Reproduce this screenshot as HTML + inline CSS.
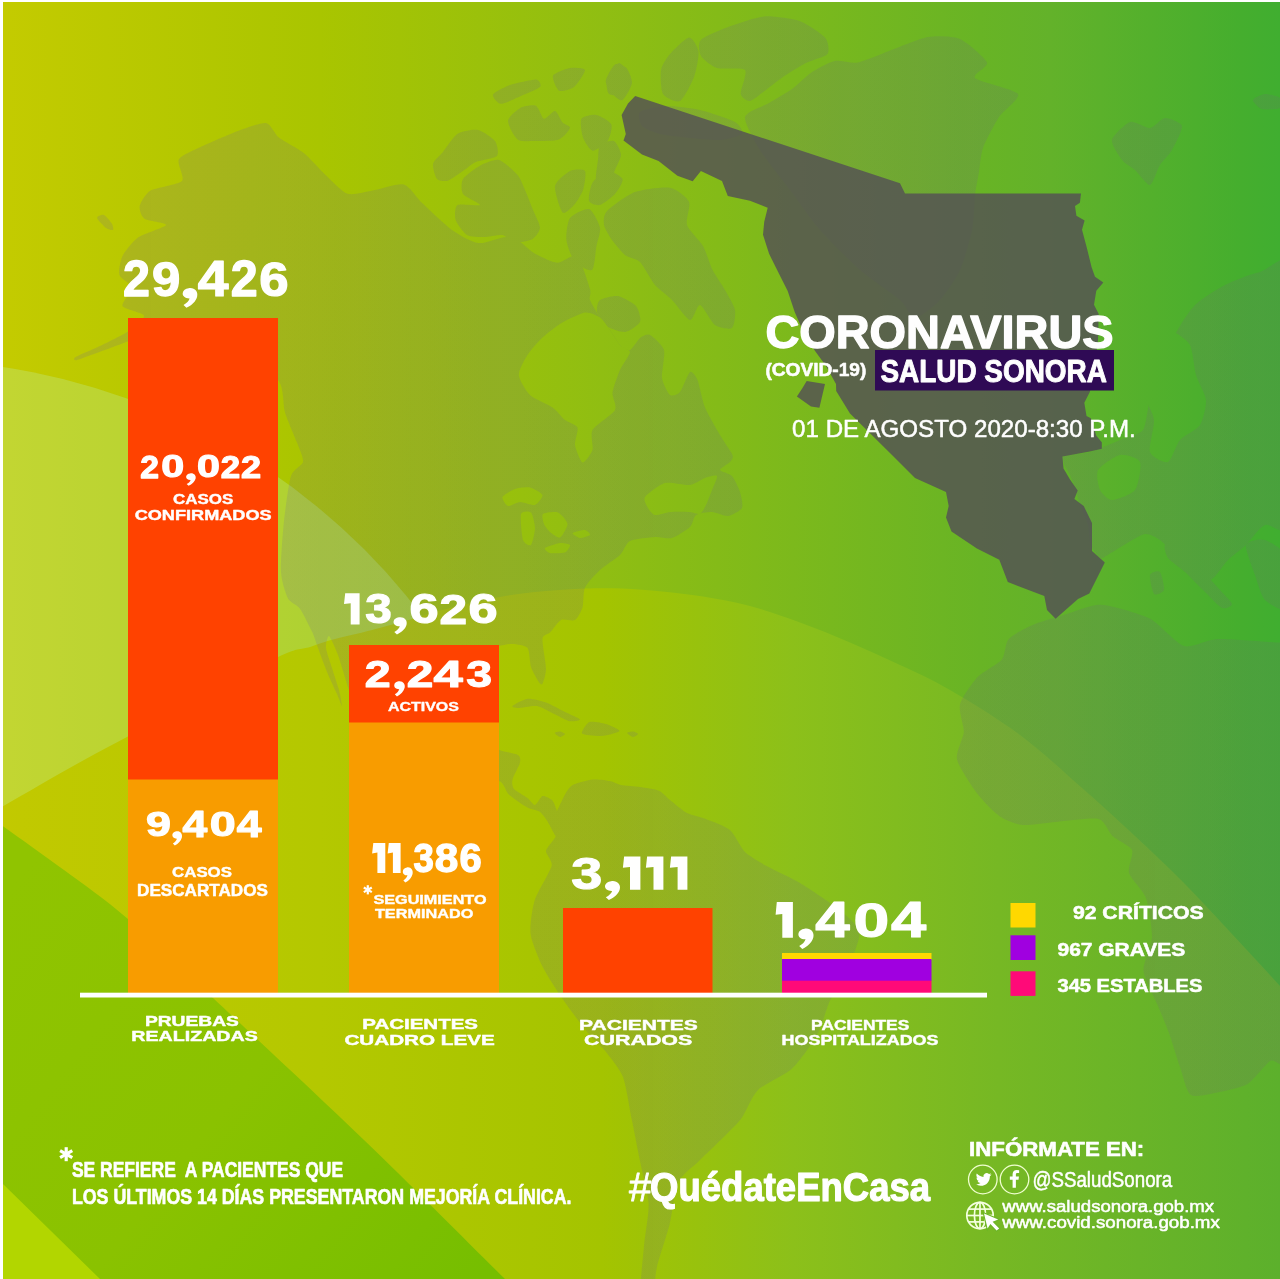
<!DOCTYPE html>
<html lang="es"><head><meta charset="utf-8"><title>Coronavirus (COVID-19) Salud Sonora</title>
<style>
html,body{margin:0;padding:0;background:#fff;}
body{width:1280px;height:1279px;overflow:hidden;font-family:"Liberation Sans",sans-serif;}
svg{display:block;}
text{font-family:"Liberation Sans",sans-serif;fill:#fff;}
.b{font-weight:bold;}
</style></head><body>
<svg width="1280" height="1279" viewBox="0 0 1280 1279">
<defs>
<linearGradient id="gBase" x1="0" y1="0" x2="1280" y2="0" gradientUnits="userSpaceOnUse">
<stop offset="0" stop-color="#c4cb00"/><stop offset="0.25" stop-color="#a9c500"/><stop offset="0.47" stop-color="#90be12"/><stop offset="0.62" stop-color="#7cb91c"/><stop offset="0.766" stop-color="#68b425"/><stop offset="0.82" stop-color="#63b22a"/><stop offset="0.9" stop-color="#53b02c"/><stop offset="0.97" stop-color="#45ae2e"/><stop offset="1" stop-color="#40ae30"/>
</linearGradient>
<linearGradient id="gS2" x1="0" y1="0" x2="1280" y2="0" gradientUnits="userSpaceOnUse">
<stop offset="0" stop-color="#c2c900"/><stop offset="0.25" stop-color="#b4c800"/><stop offset="0.47" stop-color="#a4c400"/><stop offset="0.62" stop-color="#8cc01a"/><stop offset="0.78" stop-color="#76b824"/><stop offset="1" stop-color="#5cb02c"/>
</linearGradient>
<linearGradient id="gBand" x1="0" y1="900" x2="480" y2="1279" gradientUnits="userSpaceOnUse">
<stop offset="0" stop-color="#90c400"/><stop offset="0.5" stop-color="#8ac200"/><stop offset="1" stop-color="#76be00"/>
</linearGradient>
<clipPath id="clipAll"><rect x="3" y="2" width="1277" height="1277"/></clipPath>
</defs>
<rect x="0" y="0" width="1280" height="1279" fill="#ffffff"/>
<g clip-path="url(#clipAll)">
<rect x="3" y="2" width="1277" height="1277" fill="url(#gBase)"/>
<circle cx="-93.4" cy="1007" r="647.2" fill="#bef7c8" fill-opacity="0.25"/>
<path d="M-60.0,842.0 C-50.0,836.3 -24.0,821.7 0.0,808.0 C24.0,794.3 54.0,776.5 84.0,760.0 C114.0,743.5 147.7,726.2 180.0,709.0 C212.3,691.8 256.3,667.3 278.0,657.0 C299.7,646.7 301.2,649.8 310.0,647.0 C318.8,644.2 320.7,642.8 331.0,640.0 C341.3,637.2 358.5,633.5 372.0,630.0 C385.5,626.5 399.0,622.7 412.0,619.0 C425.0,615.3 435.3,611.7 450.0,608.0 C464.7,604.3 484.8,599.8 500.0,597.0 C515.2,594.2 526.8,592.9 541.0,591.5 C555.2,590.1 571.5,589.0 585.0,588.5 C598.5,588.0 609.2,588.0 622.0,588.5 C634.8,589.0 648.5,590.1 662.0,591.5 C675.5,592.9 688.3,594.2 703.0,596.6 C717.7,599.0 733.8,601.7 750.0,606.0 C766.2,610.3 783.3,616.4 800.0,622.5 C816.7,628.6 833.3,635.4 850.0,642.5 C866.7,649.6 883.3,657.1 900.0,665.0 C916.7,672.9 930.0,678.3 950.0,690.0 C970.0,701.7 998.2,718.8 1020.0,735.0 C1041.8,751.2 1061.8,770.2 1081.0,787.0 C1100.2,803.8 1117.8,820.0 1135.0,836.0 C1152.2,852.0 1167.8,866.7 1184.0,883.0 C1200.2,899.3 1216.0,916.8 1232.0,934.0 C1248.0,951.2 1263.7,968.0 1280.0,986.0 C1296.3,1004.0 1321.7,1032.7 1330.0,1042.0 L1330,1400 L-60,1400 Z" fill="url(#gS2)"/>
<path d="M-40.0,796.0 C-33.3,800.7 -17.3,811.7 0.0,824.0 C17.3,836.3 42.7,854.2 64.0,870.0 C85.3,885.8 103.2,897.7 128.0,919.0 C152.8,940.3 173.7,961.2 213.0,998.0 C252.3,1034.8 315.3,1093.2 364.0,1140.0 C412.7,1186.8 472.3,1246.7 505.0,1279.0 C537.7,1311.3 550.8,1324.8 560.0,1334.0 L-40,1334 Z" fill="url(#gBand)"/>
<path d="M-10,1171 L3,1184 L100,1279 L140,1320 L-10,1320 Z" fill="#b2d600"/>
<mask id="mLand" maskUnits="userSpaceOnUse" x="0" y="0" width="1280" height="1279"><rect x="0" y="0" width="1280" height="1279" fill="#000"/><g fill="#fff"><path d="M266.0,123.0 C261.2,122.2 245.6,128.2 238.0,131.0 C230.4,133.8 207.5,143.7 200.6,147.0 C193.7,150.3 181.0,155.4 178.8,159.4 C176.6,163.4 185.2,177.4 181.9,181.0 C178.6,184.6 155.5,187.7 150.6,190.6 C145.7,193.5 140.4,202.7 139.7,206.0 C139.0,209.3 141.3,216.6 144.4,218.8 C147.5,221.0 166.7,222.8 166.0,225.0 C165.3,227.2 143.1,233.9 138.0,237.5 C132.9,241.1 124.7,251.6 122.5,256.0 C120.3,260.4 118.3,271.3 119.4,275.0 C120.5,278.7 131.6,283.9 132.0,287.5 C132.4,291.1 121.1,302.7 122.5,306.0 C123.9,309.3 143.3,312.7 144.0,315.6 C144.7,318.5 133.9,327.5 128.8,331.0 C123.7,334.5 106.2,343.0 100.0,346.0 C93.8,349.0 78.3,355.4 75.6,357.0 C72.9,358.6 73.6,360.8 77.0,360.0 C80.4,359.2 98.2,352.4 105.0,350.0 C111.8,347.6 128.0,341.1 135.0,339.0 C142.0,336.9 157.4,332.1 165.0,332.0 C172.6,331.9 191.2,335.9 200.0,338.0 C208.8,340.1 230.8,345.0 240.0,350.0 C249.2,355.0 273.6,373.7 278.8,381.0 C284.1,388.3 282.8,405.2 285.0,412.5 C287.2,419.8 295.4,438.0 297.5,443.8 C299.6,449.6 303.8,458.2 303.0,462.0 C302.2,465.8 293.2,469.1 291.0,476.0 C288.8,482.9 285.2,509.8 284.0,521.0 C282.8,532.2 280.5,563.0 281.0,572.0 C281.5,581.0 285.8,594.2 288.0,598.5 C290.2,602.8 297.1,604.7 300.0,608.7 C302.9,612.7 310.6,628.4 312.7,633.0 C314.8,637.6 316.3,643.5 318.0,648.0 C319.7,652.5 324.8,666.6 327.0,672.0 C329.2,677.4 335.2,690.0 337.0,694.0 C338.8,698.0 341.8,706.5 342.0,706.0 C342.2,705.5 340.2,694.4 339.0,690.0 C337.8,685.6 333.5,672.9 332.0,668.0 C330.5,663.1 326.4,651.7 326.0,648.0 C325.6,644.3 327.6,635.2 329.0,636.0 C330.4,636.8 335.7,648.7 338.0,655.0 C340.3,661.3 346.4,682.4 349.0,690.0 C351.6,697.6 356.4,713.0 360.0,720.0 C363.6,727.0 373.0,743.6 380.0,750.0 C387.0,756.4 410.7,770.3 420.0,775.0 C429.3,779.7 450.9,789.3 460.0,790.0 C469.1,790.7 492.7,780.5 498.4,781.0 C504.1,781.5 505.4,791.4 508.8,794.5 C512.2,797.6 523.9,805.6 527.5,807.6 C531.1,809.6 537.6,810.3 540.0,812.0 C542.4,813.7 546.1,819.2 548.0,822.0 C549.9,824.8 554.6,836.0 556.0,836.0 C557.4,836.0 560.0,825.3 560.0,822.0 C560.0,818.7 556.6,810.2 555.7,807.6 C554.8,805.0 553.5,801.4 552.0,800.0 C550.5,798.6 544.5,795.4 542.5,796.0 C540.5,796.6 536.8,804.8 535.0,805.0 C533.2,805.2 530.0,799.9 527.5,798.0 C525.0,796.1 515.8,791.2 514.0,789.0 C512.2,786.8 511.8,782.6 512.5,779.5 C513.2,776.4 519.4,765.5 520.0,762.6 C520.6,759.7 520.4,756.5 518.0,755.0 C515.6,753.5 503.8,751.8 499.4,750.0 C495.0,748.2 484.6,744.1 480.0,740.0 C475.4,735.9 463.5,720.8 460.0,715.0 C456.5,709.2 450.6,695.8 450.0,690.0 C449.4,684.2 452.1,669.7 455.0,665.0 C457.9,660.3 470.0,652.2 475.0,650.0 C480.0,647.8 493.6,646.7 498.0,646.0 C502.4,645.3 509.1,643.8 512.5,644.0 C515.9,644.2 525.3,645.3 527.5,648.0 C529.7,650.7 529.7,663.0 531.0,667.0 C532.3,671.0 537.5,680.0 538.8,682.0 C540.1,684.0 541.7,685.3 542.5,683.8 C543.3,682.3 546.0,674.0 546.0,668.8 C546.0,663.5 542.0,643.0 542.5,638.8 C543.0,634.6 547.8,634.8 550.0,632.6 C552.2,630.4 558.1,621.5 561.0,620.0 C563.9,618.5 572.5,621.5 575.0,620.0 C577.5,618.5 581.3,611.3 582.5,607.5 C583.7,603.7 583.0,591.9 585.0,587.5 C587.0,583.1 595.9,573.8 600.0,570.0 C604.1,566.2 616.5,558.4 620.0,555.0 C623.5,551.6 625.9,543.1 630.0,541.0 C634.1,538.9 650.1,537.4 655.0,537.0 C659.9,536.6 667.9,539.2 672.0,538.0 C676.1,536.8 687.2,529.7 690.0,527.0 C692.8,524.3 693.4,516.8 696.0,515.0 C698.6,513.2 708.3,511.9 712.0,512.0 C715.7,512.1 724.5,516.5 728.0,516.0 C731.5,515.5 740.6,510.8 742.0,508.0 C743.4,505.2 741.2,495.7 740.0,492.0 C738.8,488.3 734.3,478.6 732.0,476.0 C729.7,473.4 720.2,471.6 720.0,470.0 C719.8,468.4 728.5,463.8 730.0,462.0 C731.5,460.2 733.7,458.1 732.5,455.0 C731.3,451.9 723.2,440.5 720.0,435.0 C716.8,429.5 707.6,413.9 705.0,407.5 C702.4,401.1 699.2,384.1 697.5,380.0 C695.8,375.9 692.0,370.6 690.0,372.0 C688.0,373.4 682.3,389.3 680.0,392.0 C677.7,394.7 672.1,396.6 670.0,395.0 C667.9,393.4 662.7,383.2 662.0,378.0 C661.3,372.8 665.4,355.0 664.0,350.0 C662.6,345.0 652.8,336.4 650.0,335.0 C647.2,333.6 642.3,336.2 640.0,338.0 C637.7,339.8 632.3,349.2 630.0,350.0 C627.7,350.8 622.3,347.3 620.0,345.0 C617.7,342.7 612.3,333.2 610.0,330.0 C607.7,326.8 602.3,321.0 600.0,317.5 C597.7,314.0 591.2,303.3 590.0,300.0 C588.8,296.7 591.5,294.1 590.0,289.0 C588.5,283.9 580.9,259.1 577.0,256.0 C573.1,252.9 562.0,263.1 557.0,262.7 C552.0,262.3 539.4,256.1 534.0,253.0 C528.6,249.9 517.5,237.7 511.0,236.5 C504.5,235.3 485.4,243.8 478.5,243.0 C471.6,242.2 458.5,234.6 452.0,230.0 C445.5,225.4 428.3,208.9 422.7,203.6 C417.1,198.3 409.7,185.9 403.8,184.4 C397.9,182.9 379.1,189.5 372.5,190.6 C365.9,191.7 353.0,195.6 347.5,193.8 C342.0,192.0 330.7,179.8 325.6,175.0 C320.5,170.2 309.3,157.4 303.8,153.0 C298.3,148.6 283.2,141.0 278.8,137.5 C274.4,134.0 270.8,123.8 266.0,123.0Z"/><path d="M97.0,218.0 C96.8,216.5 102.2,214.3 104.0,215.0 C105.8,215.7 111.0,222.2 112.0,224.0 C113.0,225.8 113.7,229.5 113.0,230.0 C112.3,230.5 107.9,229.4 106.0,228.0 C104.1,226.6 97.2,219.5 97.0,218.0Z"/><path d="M512.5,706.0 C513.6,704.9 523.6,699.2 527.5,698.8 C531.4,698.4 541.6,701.0 546.0,702.5 C550.4,704.0 561.0,710.0 565.0,712.0 C569.0,714.0 579.6,718.4 580.0,719.4 C580.4,720.4 571.9,721.7 568.8,721.0 C565.7,720.3 557.5,715.5 553.8,713.8 C550.1,712.0 541.2,706.7 537.0,706.0 C532.8,705.3 520.9,708.0 518.0,708.0 C515.1,708.0 511.4,707.1 512.5,706.0Z"/><path d="M589.4,722.0 C592.2,720.9 602.5,723.0 606.0,724.0 C609.5,725.0 619.0,729.5 619.5,730.7 C620.0,731.9 612.4,733.8 610.0,734.4 C607.6,735.0 602.1,736.1 598.8,736.0 C595.5,735.9 583.1,735.1 582.0,733.5 C580.9,731.9 586.6,723.1 589.4,722.0Z"/><path d="M554.7,733.0 C554.7,732.4 558.8,731.5 560.0,731.6 C561.2,731.7 565.0,733.4 565.0,734.0 C565.0,734.6 561.2,737.1 560.0,737.0 C558.8,736.9 554.7,733.6 554.7,733.0Z"/><path d="M627.0,733.0 C627.0,732.4 631.7,731.5 633.0,731.6 C634.3,731.7 638.0,733.4 638.0,734.0 C638.0,734.6 634.3,737.1 633.0,737.0 C631.7,736.9 627.0,733.6 627.0,733.0Z"/><path d="M543.0,807.0 C543.5,806.6 549.4,820.5 552.0,819.0 C554.6,817.5 562.6,798.5 565.0,794.5 C567.4,790.5 569.3,786.8 572.6,785.0 C575.9,783.2 588.6,780.0 593.0,779.5 C597.4,779.0 606.7,780.4 610.0,781.0 C613.3,781.6 617.5,784.3 621.0,785.0 C624.5,785.7 635.6,786.3 640.0,787.0 C644.4,787.7 655.5,789.2 659.0,790.7 C662.5,792.2 666.7,797.4 670.0,800.0 C673.3,802.6 682.8,810.8 687.0,813.0 C691.2,815.2 700.8,817.0 705.8,819.0 C710.8,821.0 725.4,826.1 730.0,830.0 C734.6,833.9 740.7,847.8 745.0,852.0 C749.3,856.2 760.2,862.4 766.6,866.0 C773.0,869.6 791.7,878.0 800.0,883.0 C808.3,888.0 831.1,903.2 838.0,908.6 C844.9,914.0 856.9,925.0 859.0,929.6 C861.1,934.2 856.9,944.6 856.0,948.0 C855.1,951.4 852.9,954.7 851.0,959.0 C849.1,963.3 842.5,980.1 840.0,985.0 C837.5,989.9 832.5,995.2 829.8,1001.0 C827.1,1006.8 821.4,1027.1 817.0,1035.0 C812.6,1042.9 798.9,1062.3 792.0,1068.7 C785.1,1075.1 764.0,1084.1 758.0,1090.0 C752.0,1095.9 745.9,1112.6 741.0,1119.0 C736.1,1125.4 720.9,1139.7 716.0,1144.6 C711.1,1149.5 703.4,1156.6 699.0,1161.0 C694.6,1165.4 681.4,1175.1 678.0,1182.5 C674.6,1189.9 672.1,1214.8 669.6,1224.6 C667.1,1234.4 659.1,1258.0 657.0,1266.8 C654.9,1275.6 654.0,1296.1 652.0,1300.0 C650.0,1303.9 640.9,1306.3 640.0,1300.0 C639.1,1293.7 643.0,1256.9 644.0,1245.7 C645.0,1234.5 649.1,1213.5 648.6,1203.6 C648.1,1193.7 642.0,1170.9 640.0,1161.0 C638.0,1151.1 633.7,1128.8 631.7,1119.0 C629.7,1109.2 626.0,1084.8 623.0,1077.0 C620.0,1069.2 609.9,1056.9 606.0,1052.0 C602.1,1047.1 594.5,1041.0 589.6,1035.0 C584.7,1029.0 569.4,1008.9 564.0,1001.0 C558.6,993.1 546.9,975.4 543.0,967.6 C539.1,959.8 531.6,941.9 530.6,934.0 C529.6,926.1 532.3,907.9 534.8,900.0 C537.2,892.1 550.3,871.7 551.6,866.0 C552.9,860.3 545.5,854.3 546.0,850.8 C546.5,847.3 555.5,839.2 555.7,835.8 C555.9,832.4 549.5,825.4 548.0,822.0 C546.5,818.6 542.5,807.4 543.0,807.0Z"/><path d="M1300.0,642.0 C1297.7,595.6 1289.6,643.0 1280.0,642.6 C1270.4,642.2 1229.2,638.6 1218.0,639.0 C1206.8,639.4 1192.0,648.4 1184.0,646.0 C1176.0,643.6 1159.3,623.3 1149.6,618.5 C1139.9,613.7 1111.0,605.1 1101.0,604.7 C1091.0,604.3 1071.6,612.6 1063.6,615.0 C1055.6,617.4 1039.0,622.2 1032.6,625.0 C1026.2,627.8 1012.2,634.9 1008.6,639.0 C1005.0,643.1 1005.3,655.4 1001.7,659.8 C998.1,664.2 982.5,671.8 977.6,677.0 C972.7,682.2 961.6,698.1 960.0,704.5 C958.4,710.9 964.1,725.6 963.8,732.0 C963.4,738.4 955.4,752.3 957.0,759.5 C958.6,766.7 972.6,787.3 977.6,794.0 C982.6,800.7 994.8,813.0 1000.0,816.6 C1005.2,820.2 1016.0,824.4 1022.5,825.0 C1029.0,825.6 1047.1,822.7 1056.0,822.0 C1064.9,821.3 1091.9,817.4 1098.5,819.0 C1105.1,820.6 1108.6,832.4 1112.5,836.0 C1116.4,839.6 1130.1,845.7 1132.0,850.0 C1133.9,854.3 1127.4,867.4 1129.0,873.0 C1130.6,878.6 1143.3,890.5 1146.0,898.0 C1148.7,905.5 1152.3,929.1 1152.0,937.6 C1151.7,946.1 1142.8,963.1 1143.5,971.0 C1144.2,978.9 1154.6,997.8 1157.6,1005.0 C1160.6,1012.2 1166.4,1025.8 1169.0,1033.0 C1171.6,1040.2 1177.4,1059.8 1180.0,1067.0 C1182.6,1074.2 1186.4,1092.1 1191.0,1095.0 C1195.6,1097.9 1212.9,1093.3 1219.5,1092.0 C1226.1,1090.7 1241.7,1087.6 1247.6,1084.0 C1253.5,1080.4 1263.9,1066.1 1270.0,1061.0 C1276.1,1055.9 1296.5,1088.9 1300.0,1040.0 C1303.5,991.1 1302.3,688.4 1300.0,642.0Z"/><path d="M1300.0,270.0 C1295.3,241.3 1268.8,270.2 1260.0,272.0 C1251.2,273.8 1232.6,281.1 1225.0,285.0 C1217.4,288.9 1200.8,299.2 1195.0,305.0 C1189.2,310.8 1178.5,327.4 1175.0,335.0 C1171.5,342.6 1167.9,362.4 1165.0,370.0 C1162.1,377.6 1152.6,393.0 1150.0,400.0 C1147.4,407.0 1146.5,425.3 1143.0,430.0 C1139.5,434.7 1126.2,437.4 1120.0,440.0 C1113.8,442.6 1096.7,450.0 1090.0,452.0 C1083.3,454.0 1064.8,454.3 1062.5,457.0 C1060.2,459.7 1068.5,471.3 1070.0,475.0 C1071.5,478.7 1074.5,485.7 1075.6,488.8 C1076.6,491.9 1077.6,497.8 1079.0,502.0 C1080.4,506.2 1086.6,520.0 1088.0,525.0 C1089.4,530.0 1089.2,541.1 1090.6,545.0 C1092.0,548.9 1098.2,556.7 1100.0,558.0 C1101.8,559.3 1103.2,557.5 1106.0,556.0 C1108.8,554.5 1119.5,547.6 1124.0,545.0 C1128.5,542.4 1140.8,534.6 1145.0,534.0 C1149.2,533.4 1156.5,537.5 1160.0,540.0 C1163.5,542.5 1171.5,552.1 1175.0,555.0 C1178.5,557.9 1185.9,562.1 1190.0,565.0 C1194.1,567.9 1205.6,580.6 1210.0,580.0 C1214.4,579.4 1223.8,564.1 1228.0,560.0 C1232.2,555.9 1241.7,549.1 1246.0,545.0 C1250.3,540.9 1258.7,528.1 1265.0,525.0 C1271.3,521.9 1295.9,547.8 1300.0,518.0 C1304.1,488.2 1304.7,298.7 1300.0,270.0Z"/><path d="M1165.0,545.0 C1166.4,543.8 1175.9,545.3 1180.0,548.0 C1184.1,550.7 1195.3,563.1 1200.0,568.0 C1204.7,572.9 1216.3,585.8 1220.0,590.0 C1223.7,594.2 1231.8,601.9 1232.0,604.0 C1232.2,606.1 1225.2,609.4 1222.0,608.0 C1218.8,606.6 1209.3,596.2 1205.0,592.0 C1200.7,587.8 1189.3,576.0 1185.0,572.0 C1180.7,568.0 1170.3,561.1 1168.0,558.0 C1165.7,554.9 1163.6,546.2 1165.0,545.0Z"/><path d="M1246.0,545.0 C1247.2,540.9 1259.9,538.2 1265.0,540.0 C1270.1,541.8 1287.1,551.8 1290.0,560.0 C1292.9,568.2 1292.9,605.3 1290.0,610.0 C1287.1,614.7 1269.1,604.1 1265.0,600.0 C1260.9,595.9 1257.2,581.4 1255.0,575.0 C1252.8,568.6 1244.8,549.1 1246.0,545.0Z"/><path d="M1150.0,575.0 C1150.7,572.4 1158.4,570.2 1160.0,572.0 C1161.6,573.8 1164.7,587.4 1164.0,590.0 C1163.3,592.6 1155.6,595.8 1154.0,594.0 C1152.4,592.2 1149.3,577.6 1150.0,575.0Z"/><path d="M1112.0,140.0 C1112.9,135.6 1125.6,123.4 1130.0,122.0 C1134.4,120.6 1145.9,128.5 1150.0,128.0 C1154.1,127.5 1161.3,118.2 1165.0,118.0 C1168.7,117.8 1181.2,122.3 1182.0,126.0 C1182.8,129.7 1174.6,145.4 1172.0,150.0 C1169.4,154.6 1162.6,160.9 1160.0,165.0 C1157.4,169.1 1152.9,184.4 1150.0,185.0 C1147.1,185.6 1138.3,172.9 1135.0,170.0 C1131.7,167.1 1124.7,163.5 1122.0,160.0 C1119.3,156.5 1111.1,144.4 1112.0,140.0Z"/><path d="M1253.0,100.0 C1253.3,98.2 1261.8,94.2 1265.0,94.0 C1268.2,93.8 1278.2,96.4 1280.0,98.0 C1281.8,99.6 1282.1,106.7 1280.0,108.0 C1277.9,109.3 1265.2,109.9 1262.0,109.0 C1258.8,108.1 1252.7,101.8 1253.0,100.0Z"/><path d="M745.0,117.0 C746.0,111.5 763.5,106.3 769.0,103.0 C774.5,99.7 787.1,92.5 792.0,89.0 C796.9,85.5 806.0,76.0 811.0,72.7 C816.0,69.4 829.1,62.2 834.6,61.0 C840.1,59.8 851.7,63.7 858.0,62.5 C864.3,61.3 880.8,54.0 889.0,51.0 C897.2,48.0 919.7,38.4 928.0,37.0 C936.3,35.6 953.1,36.0 960.0,39.0 C966.9,42.0 985.2,58.0 987.0,62.5 C988.8,67.0 971.4,74.3 975.0,78.0 C978.6,81.7 1015.2,89.5 1018.0,94.0 C1020.8,98.5 1003.1,110.7 999.0,117.0 C994.9,123.3 985.3,141.6 983.0,148.0 C980.7,154.4 979.9,166.5 979.0,172.0 C978.1,177.5 975.8,188.2 975.0,195.0 C974.2,201.8 973.8,221.2 972.0,230.0 C970.2,238.8 963.7,261.8 960.0,270.0 C956.3,278.2 945.2,294.4 940.0,300.0 C934.8,305.6 919.7,318.0 915.0,318.0 C910.3,318.0 906.4,305.6 900.0,300.0 C893.6,294.4 869.3,278.2 860.0,270.0 C850.7,261.8 828.2,239.3 820.0,230.0 C811.8,220.7 797.0,199.3 790.0,190.0 C783.0,180.7 765.2,158.5 760.0,150.0 C754.8,141.5 744.0,122.5 745.0,117.0Z"/><path d="M700.9,39.9 C704.4,36.4 724.0,28.5 731.4,25.8 C738.8,23.1 756.3,17.0 764.2,16.4 C772.1,15.8 792.3,18.5 799.4,21.0 C806.5,23.5 821.7,33.6 825.0,37.5 C828.3,41.4 829.7,51.0 827.5,54.0 C825.3,57.0 811.2,60.3 806.0,63.0 C800.8,65.7 787.9,73.7 783.0,77.0 C778.1,80.3 767.9,88.7 764.0,91.5 C760.1,94.3 752.7,100.7 750.0,101.0 C747.3,101.3 741.3,97.6 740.7,94.0 C740.1,90.4 747.8,73.0 745.0,70.0 C742.2,67.0 722.1,69.6 717.0,68.0 C711.9,66.4 702.9,59.3 701.0,56.0 C699.1,52.7 697.4,43.4 700.9,39.9Z"/><path d="M661.0,70.0 C661.8,65.3 666.7,57.8 670.0,54.0 C673.3,50.2 685.7,37.8 689.0,37.5 C692.3,37.2 697.9,47.0 698.5,51.6 C699.1,56.2 696.2,71.2 694.0,77.0 C691.8,82.8 683.6,99.0 680.0,101.0 C676.4,103.0 665.2,97.6 663.0,94.0 C660.8,90.4 660.2,74.7 661.0,70.0Z"/><path d="M607.0,80.0 C608.2,76.4 616.3,63.4 619.0,63.0 C621.7,62.6 630.0,73.4 630.5,77.0 C631.0,80.6 626.0,92.0 623.5,94.0 C621.0,96.0 610.9,95.6 609.0,94.0 C607.1,92.4 605.8,83.6 607.0,80.0Z"/><path d="M640.0,112.0 C642.7,109.7 658.0,106.2 665.0,106.0 C672.0,105.8 691.8,108.1 700.0,110.0 C708.2,111.9 730.1,119.2 735.0,122.0 C739.9,124.8 743.8,131.9 742.0,134.0 C740.2,136.1 726.1,139.5 720.0,140.0 C713.9,140.5 697.0,138.7 690.0,138.0 C683.0,137.3 665.6,135.4 660.0,134.0 C654.4,132.6 644.3,128.6 642.0,126.0 C639.7,123.4 637.3,114.3 640.0,112.0Z"/><path d="M600.0,145.0 C601.9,142.8 611.5,139.8 614.0,141.0 C616.5,142.2 621.0,151.2 621.0,155.0 C621.0,158.8 614.3,169.8 614.0,173.6 C613.7,177.4 620.0,185.0 618.8,187.7 C617.6,190.4 606.7,197.9 604.0,197.0 C601.3,196.1 596.7,184.3 596.0,180.0 C595.3,175.7 597.5,164.1 598.0,160.0 C598.5,155.9 598.1,147.2 600.0,145.0Z"/><path d="M607.0,211.0 C610.6,207.2 627.6,194.7 635.0,192.0 C642.4,189.3 663.7,186.6 670.0,187.7 C676.3,188.8 687.0,197.3 689.0,201.7 C691.0,206.1 685.4,219.8 687.0,225.0 C688.6,230.2 700.0,240.8 703.0,246.0 C706.0,251.2 710.0,264.9 712.6,270.0 C715.2,275.1 722.4,285.3 725.0,290.0 C727.6,294.7 734.2,305.6 735.0,310.0 C735.8,314.4 734.3,326.2 732.0,328.0 C729.7,329.8 718.7,327.7 715.0,325.0 C711.3,322.3 702.9,305.6 700.0,305.0 C697.1,304.4 693.3,320.6 690.0,320.0 C686.7,319.4 676.1,304.1 672.0,300.0 C667.9,295.9 658.7,289.4 655.0,285.0 C651.3,280.6 643.5,265.5 640.0,262.0 C636.5,258.5 628.3,257.6 625.0,255.0 C621.7,252.4 614.5,243.5 612.0,240.0 C609.5,236.5 604.6,228.4 604.0,225.0 C603.4,221.6 603.4,214.8 607.0,211.0Z"/><path d="M600.0,300.0 C602.5,298.1 613.8,295.3 618.0,296.0 C622.2,296.7 633.4,303.0 636.0,306.0 C638.6,309.0 641.3,319.0 640.0,322.0 C638.7,325.0 629.0,331.5 625.0,332.0 C621.0,332.5 609.3,328.3 606.0,326.0 C602.7,323.7 597.7,315.0 597.0,312.0 C596.3,309.0 597.5,301.9 600.0,300.0Z"/><path d="M433.0,164.0 C433.6,160.9 439.6,156.1 442.5,152.6 C445.4,149.1 453.4,136.4 457.5,133.8 C461.6,131.2 473.6,129.2 478.0,130.0 C482.4,130.8 492.8,138.0 495.0,141.0 C497.2,144.0 499.2,153.6 497.0,156.0 C494.8,158.4 480.0,160.2 476.0,162.0 C472.0,163.8 466.3,168.8 463.0,171.0 C459.7,173.2 451.0,179.8 448.0,180.7 C445.0,181.6 438.8,180.9 437.0,179.0 C435.2,177.1 432.4,167.1 433.0,164.0Z"/><path d="M463.0,179.0 C465.0,175.7 475.8,167.9 480.0,165.7 C484.2,163.5 494.6,158.9 499.0,160.0 C503.4,161.1 514.6,171.5 517.6,175.0 C520.6,178.5 523.2,186.0 525.0,190.0 C526.8,194.0 530.9,204.6 532.6,209.0 C534.4,213.4 540.0,224.1 540.0,227.6 C540.0,231.1 535.6,237.2 532.6,239.0 C529.6,240.8 517.5,243.1 514.0,242.6 C510.5,242.1 506.1,235.7 502.6,235.0 C499.1,234.3 488.2,237.0 484.0,237.0 C479.8,237.0 470.3,237.0 467.0,235.0 C463.7,233.0 456.7,223.5 455.6,220.0 C454.5,216.5 454.7,206.8 457.5,205.0 C460.3,203.2 479.4,206.3 480.0,205.0 C480.6,203.7 465.0,197.0 463.0,194.0 C461.0,191.0 461.0,182.3 463.0,179.0Z"/><path d="M493.0,94.4 C494.1,92.2 505.0,86.8 510.0,85.0 C515.0,83.2 532.5,79.2 536.0,79.4 C539.5,79.6 541.8,85.1 540.0,87.0 C538.2,88.9 525.6,94.0 521.0,96.0 C516.4,98.0 504.0,104.0 500.7,103.8 C497.4,103.6 491.9,96.6 493.0,94.4Z"/><path d="M508.0,120.7 C508.4,117.0 517.7,109.2 521.0,107.5 C524.3,105.8 533.3,104.4 536.0,105.7 C538.7,107.0 541.8,118.2 544.0,118.8 C546.2,119.4 552.8,110.6 555.0,111.0 C557.2,111.4 560.9,120.6 562.6,122.6 C564.4,124.6 570.4,126.0 570.0,128.0 C569.6,130.0 563.0,137.9 559.0,139.4 C555.0,140.9 540.8,141.0 536.0,141.0 C531.2,141.0 520.9,141.8 517.6,139.4 C514.3,137.0 507.6,124.4 508.0,120.7Z"/><path d="M553.0,75.6 C554.3,73.0 566.3,68.7 570.0,68.0 C573.7,67.3 584.5,67.8 585.0,70.0 C585.5,72.2 577.0,84.6 574.0,87.0 C571.0,89.4 561.5,92.0 559.0,90.7 C556.5,89.4 551.7,78.2 553.0,75.6Z"/><path d="M581.4,118.8 C583.0,116.2 592.9,114.3 596.4,115.0 C599.9,115.7 610.1,121.4 611.4,124.4 C612.7,127.4 609.8,137.9 607.6,141.0 C605.4,144.1 595.5,151.1 592.6,150.7 C589.7,150.3 584.3,141.3 583.0,137.6 C581.7,133.9 579.8,121.4 581.4,118.8Z"/><path d="M605.7,81.0 C605.9,77.5 612.6,65.9 615.0,64.4 C617.4,62.9 624.4,65.8 626.4,68.0 C628.4,70.2 632.4,79.3 632.0,83.0 C631.6,86.7 624.8,98.7 622.6,100.0 C620.4,101.3 615.0,96.6 613.0,94.4 C611.0,92.2 605.5,84.5 605.7,81.0Z"/><path d="M555.0,186.0 C555.9,181.1 566.5,172.8 570.0,171.0 C573.5,169.2 583.5,168.8 585.0,171.0 C586.5,173.2 584.3,186.0 583.0,190.0 C581.7,194.0 576.4,202.4 574.0,205.0 C571.6,207.6 564.8,214.8 562.6,212.6 C560.4,210.4 554.1,190.9 555.0,186.0Z"/><path d="M592.6,182.6 C594.8,179.1 604.1,171.4 607.6,171.0 C611.1,170.6 621.7,176.3 622.6,179.0 C623.5,181.7 617.6,191.0 615.0,194.0 C612.4,197.0 603.0,204.2 600.0,205.0 C597.0,205.8 589.9,203.6 589.0,201.0 C588.1,198.4 590.4,186.1 592.6,182.6Z"/><path d="M570.0,218.0 C572.6,214.4 585.5,207.9 589.0,209.0 C592.5,210.1 599.1,223.2 600.0,227.6 C600.9,232.0 597.3,241.5 596.4,246.4 C595.5,251.3 594.5,268.2 592.0,270.0 C589.5,271.8 578.0,265.5 575.0,262.0 C572.0,258.5 567.0,245.1 566.4,240.0 C565.8,234.9 567.4,221.6 570.0,218.0Z"/></g><g fill="#000"><path d="M585.0,312.5 C580.6,313.1 567.5,319.6 562.5,322.5 C557.5,325.4 546.6,333.7 542.5,337.5 C538.4,341.3 530.3,350.6 527.5,355.0 C524.7,359.4 518.5,370.3 518.8,375.0 C519.1,379.7 526.1,391.2 530.0,395.0 C533.9,398.8 548.4,404.6 552.5,407.5 C556.6,410.4 562.1,417.7 565.0,420.0 C567.9,422.3 576.3,424.6 577.5,427.5 C578.7,430.4 574.4,440.9 575.0,445.0 C575.6,449.1 580.5,461.9 582.5,462.5 C584.5,463.1 591.3,453.8 592.5,450.0 C593.7,446.2 589.9,434.7 592.5,430.0 C595.1,425.3 612.7,414.4 615.0,410.0 C617.3,405.6 611.9,397.2 612.5,392.5 C613.1,387.8 618.0,374.7 620.0,370.0 C622.0,365.3 630.0,354.9 630.0,352.0 C630.0,349.1 622.3,347.6 620.0,345.0 C617.7,342.4 612.3,333.2 610.0,330.0 C607.7,326.8 602.9,319.5 600.0,317.5 C597.1,315.5 589.4,311.9 585.0,312.5Z"/><path d="M645.0,497.0 C647.0,494.1 659.8,484.4 665.0,483.0 C670.2,481.6 685.3,485.6 690.0,485.0 C694.7,484.4 701.9,479.1 705.0,478.0 C708.1,476.9 716.2,474.6 717.0,476.0 C717.8,477.4 713.3,486.6 712.0,490.0 C710.7,493.4 707.4,502.2 706.0,505.0 C704.6,507.8 701.9,513.2 700.0,514.0 C698.1,514.8 693.5,512.2 690.0,512.0 C686.5,511.8 674.1,511.6 670.0,512.0 C665.9,512.4 657.6,515.5 655.0,515.0 C652.4,514.5 649.2,510.1 648.0,508.0 C646.8,505.9 643.0,499.9 645.0,497.0Z"/><path d="M1152.0,345.0 C1155.0,337.6 1167.6,332.0 1172.0,332.0 C1176.4,332.0 1187.2,340.0 1190.0,345.0 C1192.8,350.0 1194.1,368.6 1196.0,375.0 C1197.9,381.4 1205.5,394.2 1206.0,400.0 C1206.5,405.8 1203.0,420.3 1200.0,425.0 C1197.0,429.7 1183.7,435.7 1180.0,440.0 C1176.3,444.3 1171.5,460.6 1168.0,462.0 C1164.5,463.4 1151.6,456.9 1150.0,452.0 C1148.4,447.1 1154.5,426.6 1154.0,420.0 C1153.5,413.4 1146.2,403.8 1146.0,395.0 C1145.8,386.2 1149.0,352.4 1152.0,345.0Z"/><path d="M1098.0,470.0 C1100.3,465.9 1115.1,455.9 1120.0,455.0 C1124.9,454.1 1138.2,457.9 1140.0,462.0 C1141.8,466.1 1138.3,485.6 1135.0,490.0 C1131.7,494.4 1116.1,500.0 1112.0,500.0 C1107.9,500.0 1101.6,493.5 1100.0,490.0 C1098.4,486.5 1095.7,474.1 1098.0,470.0Z"/><path d="M502.5,497.0 C503.3,495.0 511.8,490.1 515.0,489.0 C518.2,487.9 526.8,486.8 530.0,487.5 C533.2,488.2 541.9,493.0 542.5,495.0 C543.1,497.0 537.6,504.2 535.0,505.0 C532.4,505.8 523.1,501.9 520.0,502.0 C516.9,502.1 510.0,506.6 508.0,506.0 C506.0,505.4 501.7,499.0 502.5,497.0Z"/><path d="M521.0,514.0 C521.9,510.8 529.4,510.9 531.0,512.5 C532.6,514.1 535.0,524.2 535.0,528.0 C535.0,531.8 532.4,543.6 531.0,545.0 C529.6,546.4 524.2,543.6 523.0,540.0 C521.8,536.4 520.1,517.2 521.0,514.0Z"/><path d="M543.0,514.0 C544.6,512.7 555.1,511.3 558.0,512.5 C560.9,513.7 567.3,521.1 567.5,524.0 C567.7,526.9 562.0,536.6 560.0,537.5 C558.0,538.4 551.9,533.6 550.0,532.0 C548.1,530.4 544.8,526.1 544.0,524.0 C543.2,521.9 541.4,515.3 543.0,514.0Z"/><path d="M545.0,548.0 C546.2,546.8 557.1,543.4 560.0,543.0 C562.9,542.6 569.4,543.9 570.0,545.0 C570.6,546.1 567.3,551.6 565.0,552.5 C562.7,553.4 552.3,553.5 550.0,553.0 C547.7,552.5 543.8,549.2 545.0,548.0Z"/><path d="M572.5,533.0 C573.1,532.1 583.0,529.8 585.0,530.0 C587.0,530.2 590.6,534.1 590.0,535.0 C589.4,535.9 582.0,538.2 580.0,538.0 C578.0,537.8 571.9,533.9 572.5,533.0Z"/></g></mask>
<linearGradient id="gMap" x1="0" y1="0" x2="1280" y2="0" gradientUnits="userSpaceOnUse"><stop offset="0" stop-color="#6958b0" stop-opacity="0.16"/><stop offset="0.5" stop-color="#6458a4" stop-opacity="0.155"/><stop offset="1" stop-color="#7d5887" stop-opacity="0.15"/></linearGradient>
<rect x="0" y="0" width="1280" height="1279" fill="url(#gMap)" mask="url(#mLand)"/>
<g fill="#545054" fill-opacity="0.82"><path d="M635.2,96.0 L900.0,183.2 L905.0,193.4 L1081.0,193.4 L1079.9,202.8 L1075.0,206.0 L1076.4,215.7 L1084.6,220.4 L1082.0,229.8 L1087.0,248.5 L1091.6,267.3 L1095.0,276.7 L1103.3,282.5 L1096.3,290.7 L1094.0,304.8 L1098.7,314.0 L1098.0,340.0 L1095.0,365.0 L1091.6,384.6 L1089.8,391.9 L1084.3,402.8 L1086.5,416.0 L1090.9,418.2 L1096.3,435.7 L1101.8,442.2 L1101.8,448.8 L1089.8,451.5 L1062.4,456.5 L1063.5,468.5 L1070.0,479.5 L1077.7,490.4 L1074.4,499.0 L1083.7,506.0 L1092.0,523.0 L1092.0,551.0 L1104.8,562.5 L1089.3,593.4 L1078.0,599.0 L1055.6,618.7 L1047.0,610.0 L1044.3,596.0 L1007.8,582.0 L999.3,559.7 L976.9,548.4 L951.5,531.5 L946.0,517.5 L948.7,506.0 L946.0,492.0 L915.0,478.0 L892.5,455.6 L872.8,436.0 L850.0,413.4 L836.2,391.0 L836.0,384.0 L826.0,366.0 L815.8,352.0 L806.0,338.0 L794.7,312.0 L787.7,291.0 L779.5,274.7 L769.0,253.6 L763.0,234.8 L764.2,222.0 L767.7,207.8 L750.0,200.8 L727.8,196.0 L722.0,181.0 L700.9,171.0 L692.7,181.3 L677.4,175.7 L658.6,161.0 L642.0,154.6 L623.5,140.5 L625.8,134.0 L621.6,115.0 L628.0,103.5Z"/><path d="M806.7,381.0 L825.0,384.0 L819.4,407.8 L811.0,406.4 L796.9,396.6 L802.5,388.0Z"/></g>
<rect x="128" y="318" width="150" height="462" fill="#ff4200"/>
<rect x="128" y="779.5" width="150" height="213.5" fill="#f89c00"/>
<rect x="349" y="645" width="150" height="78" fill="#ff4200"/>
<rect x="349" y="722.5" width="150" height="270.5" fill="#f89c00"/>
<rect x="563" y="908" width="149.5" height="85" fill="#ff4200"/>
<rect x="782" y="953" width="149.5" height="7" fill="#ffd800"/>
<rect x="782" y="959" width="149.5" height="22" fill="#a000e0"/>
<rect x="782" y="980.7" width="149.5" height="12.3" fill="#ff0a78"/>
<rect x="80" y="992.7" width="907" height="4.8" fill="#ffffff"/>
<rect x="1010.5" y="903" width="25" height="24.5" fill="#ffd800"/>
<rect x="1010.5" y="935.3" width="25" height="24.7" fill="#a000e0"/>
<rect x="1010.5" y="971.3" width="25" height="24.6" fill="#ff0a78"/>
<rect x="875" y="350" width="239" height="40.5" fill="#2f0a55"/>
<g opacity="0.999">
<text x="173.1" y="503.6" font-size="14.0" class="b" textLength="60.2" lengthAdjust="spacingAndGlyphs" stroke="#fff" stroke-width="0.42" stroke-linejoin="round">CASOS</text>
<text x="134.7" y="520.3" font-size="15.1" class="b" textLength="136.9" lengthAdjust="spacingAndGlyphs" stroke="#fff" stroke-width="0.45" stroke-linejoin="round">CONFIRMADOS</text>
<text x="172.1" y="877.0" font-size="15.4" class="b" textLength="59.8" lengthAdjust="spacingAndGlyphs" stroke="#fff" stroke-width="0.46" stroke-linejoin="round">CASOS</text>
<text x="137.1" y="895.9" font-size="16.3" class="b" textLength="130.8" lengthAdjust="spacingAndGlyphs" stroke="#fff" stroke-width="0.49" stroke-linejoin="round">DESCARTADOS</text>
<text x="144.9" y="1025.6" font-size="14.7" class="b" textLength="94.0" lengthAdjust="spacingAndGlyphs" stroke="#fff" stroke-width="0.44" stroke-linejoin="round">PRUEBAS</text>
<text x="131.3" y="1040.5" font-size="14.7" class="b" textLength="126.5" lengthAdjust="spacingAndGlyphs" stroke="#fff" stroke-width="0.44" stroke-linejoin="round">REALIZADAS</text>
<text x="387.9" y="710.7" font-size="12.2" class="b" textLength="71.0" lengthAdjust="spacingAndGlyphs" stroke="#fff" stroke-width="0.36" stroke-linejoin="round">ACTIVOS</text>
<text x="373.5" y="903.5" font-size="13.5" class="b" textLength="113.0" lengthAdjust="spacingAndGlyphs" stroke="#fff" stroke-width="0.41" stroke-linejoin="round">SEGUIMIENTO</text>
<text x="374.9" y="917.6" font-size="13.1" class="b" textLength="98.4" lengthAdjust="spacingAndGlyphs" stroke="#fff" stroke-width="0.39" stroke-linejoin="round">TERMINADO</text>
<text x="362.3" y="1029.3" font-size="14.0" class="b" textLength="115.7" lengthAdjust="spacingAndGlyphs" stroke="#fff" stroke-width="0.42" stroke-linejoin="round">PACIENTES</text>
<text x="344.4" y="1045.3" font-size="14.0" class="b" textLength="150.5" lengthAdjust="spacingAndGlyphs" stroke="#fff" stroke-width="0.42" stroke-linejoin="round">CUADRO LEVE</text>
<text x="579.1" y="1029.7" font-size="14.0" class="b" textLength="118.7" lengthAdjust="spacingAndGlyphs" stroke="#fff" stroke-width="0.42" stroke-linejoin="round">PACIENTES</text>
<text x="584.1" y="1045.3" font-size="14.4" class="b" textLength="108.2" lengthAdjust="spacingAndGlyphs" stroke="#fff" stroke-width="0.43" stroke-linejoin="round">CURADOS</text>
<text x="811.1" y="1029.6" font-size="14.0" class="b" textLength="98.2" lengthAdjust="spacingAndGlyphs" stroke="#fff" stroke-width="0.42" stroke-linejoin="round">PACIENTES</text>
<text x="781.6" y="1045.0" font-size="14.4" class="b" textLength="156.9" lengthAdjust="spacingAndGlyphs" stroke="#fff" stroke-width="0.43" stroke-linejoin="round">HOSPITALIZADOS</text>
<text x="1072.9" y="918.8" font-size="17.5" class="b" textLength="130.8" lengthAdjust="spacingAndGlyphs" stroke="#fff" stroke-width="0.52" stroke-linejoin="round">92 CRÍTICOS</text>
<text x="1057.5" y="955.6" font-size="17.9" class="b" textLength="127.8" lengthAdjust="spacingAndGlyphs" stroke="#fff" stroke-width="0.54" stroke-linejoin="round">967 GRAVES</text>
<text x="1057.5" y="992.0" font-size="17.6" class="b" textLength="144.8" lengthAdjust="spacingAndGlyphs" stroke="#fff" stroke-width="0.53" stroke-linejoin="round">345 ESTABLES</text>
<text x="765.4" y="347.8" font-size="45.8" class="b" textLength="348.2" lengthAdjust="spacingAndGlyphs" stroke="#fff" stroke-width="1.37" stroke-linejoin="round">CORONAVIRUS</text>
<text x="765.4" y="376.0" font-size="18.9" class="b" textLength="100.9" lengthAdjust="spacingAndGlyphs" stroke="#fff" stroke-width="0.57" stroke-linejoin="round">(COVID-19)</text>
<text x="880.4" y="382.2" font-size="30.6" class="b" textLength="226.5" lengthAdjust="spacingAndGlyphs" stroke="#fff" stroke-width="0.92" stroke-linejoin="round">SALUD SONORA</text>
<text x="792.1" y="436.9" font-size="23.2" textLength="343.7" lengthAdjust="spacingAndGlyphs" stroke="#fff" stroke-width="0.50" stroke-linejoin="round">01 DE AGOSTO 2020-8:30 P.M.</text>
<text x="71.9" y="1177.2" font-size="21.9" class="b" textLength="271.2" lengthAdjust="spacingAndGlyphs" xml:space="preserve" style="white-space:pre" stroke="#fff" stroke-width="0.66" stroke-linejoin="round">SE REFIERE  A PACIENTES QUE</text>
<text x="71.9" y="1204.4" font-size="21.5" class="b" textLength="499.6" lengthAdjust="spacingAndGlyphs" stroke="#fff" stroke-width="0.65" stroke-linejoin="round">LOS ÚLTIMOS 14 DÍAS PRESENTARON MEJORÍA CLÍNICA.</text>
<text x="629.1" y="1201.3" font-size="40.2" textLength="22.2" lengthAdjust="spacingAndGlyphs" stroke="#fff" stroke-width="0.80" stroke-linejoin="round">#</text>
<text x="650.1" y="1201.3" font-size="40.2" class="b" textLength="280.0" lengthAdjust="spacingAndGlyphs" stroke="#fff" stroke-width="1.21" stroke-linejoin="round">QuédateEnCasa</text>
<text x="969.1" y="1156.3" font-size="20.0" class="b" textLength="175.2" lengthAdjust="spacingAndGlyphs" stroke="#fff" stroke-width="0.60" stroke-linejoin="round">INFÓRMATE EN:</text>
<text x="1032.5" y="1186.6" font-size="21.2" textLength="139.7" lengthAdjust="spacingAndGlyphs" stroke="#fff" stroke-width="0.50" stroke-linejoin="round">@SSaludSonora</text>
<text x="1002.3" y="1212.2" font-size="15.8" textLength="211.8" lengthAdjust="spacingAndGlyphs" stroke="#fff" stroke-width="0.50" stroke-linejoin="round">www.saludsonora.gob.mx</text>
<text x="1002.3" y="1228.0" font-size="15.8" textLength="217.5" lengthAdjust="spacingAndGlyphs" stroke="#fff" stroke-width="0.50" stroke-linejoin="round">www.covid.sonora.gob.mx</text>
<text transform="translate(123.07,296.45) scale(0.980,1)" x="0" y="0" font-size="49.48" class="b" stroke="#fff" stroke-width="1.3" stroke-linejoin="round" style="vector-effect:non-scaling-stroke">2</text><text transform="translate(151.88,295.97) scale(1.045,1)" x="0" y="0" font-size="48.80" class="b" stroke="#fff" stroke-width="1.3" stroke-linejoin="round" style="vector-effect:non-scaling-stroke">9</text><path transform="translate(182.5,288.0) scale(0.987,0.961)" d="M6.2,0.2 C11.8,-0.9 16.2,3.4 14.8,9 C13.6,13.8 9.4,18 4,20.5 L1,17.6 C4.2,15.8 6.6,13.2 7.2,10.8 C3,11 -0.2,8.6 0.2,5.2 C0.5,2.4 3,0.7 6.2,0.2 Z" fill="#fff"/><text transform="translate(197.81,296.45) scale(1.100,1)" x="0" y="0" font-size="50.22" class="b" stroke="#fff" stroke-width="1.3" stroke-linejoin="round" style="vector-effect:non-scaling-stroke">4</text><text transform="translate(230.67,296.45) scale(0.978,1)" x="0" y="0" font-size="49.48" class="b" stroke="#fff" stroke-width="1.3" stroke-linejoin="round" style="vector-effect:non-scaling-stroke">2</text><text transform="translate(259.22,295.97) scale(1.081,1)" x="0" y="0" font-size="48.80" class="b" stroke="#fff" stroke-width="1.3" stroke-linejoin="round" style="vector-effect:non-scaling-stroke">6</text>
<text transform="translate(140.28,477.55) scale(1.054,1)" x="0" y="0" font-size="31.94" class="b" stroke="#fff" stroke-width="1.3" stroke-linejoin="round" style="vector-effect:non-scaling-stroke">2</text><text transform="translate(161.32,477.24) scale(1.308,1)" x="0" y="0" font-size="31.50" class="b" stroke="#fff" stroke-width="1.3" stroke-linejoin="round" style="vector-effect:non-scaling-stroke">0</text><path transform="translate(186.0,473.3) scale(0.647,0.610)" d="M6.2,0.2 C11.8,-0.9 16.2,3.4 14.8,9 C13.6,13.8 9.4,18 4,20.5 L1,17.6 C4.2,15.8 6.6,13.2 7.2,10.8 C3,11 -0.2,8.6 0.2,5.2 C0.5,2.4 3,0.7 6.2,0.2 Z" fill="#fff"/><text transform="translate(197.02,477.24) scale(1.308,1)" x="0" y="0" font-size="31.50" class="b" stroke="#fff" stroke-width="1.3" stroke-linejoin="round" style="vector-effect:non-scaling-stroke">0</text><text transform="translate(220.64,477.55) scale(1.093,1)" x="0" y="0" font-size="31.94" class="b" stroke="#fff" stroke-width="1.3" stroke-linejoin="round" style="vector-effect:non-scaling-stroke">2</text><text transform="translate(241.00,477.55) scale(1.132,1)" x="0" y="0" font-size="31.94" class="b" stroke="#fff" stroke-width="1.3" stroke-linejoin="round" style="vector-effect:non-scaling-stroke">2</text>
<text transform="translate(146.10,836.21) scale(1.269,1)" x="0" y="0" font-size="35.31" class="b" stroke="#fff" stroke-width="1.3" stroke-linejoin="round" style="vector-effect:non-scaling-stroke">9</text><path transform="translate(172.2,831.2) scale(0.653,0.693)" d="M6.2,0.2 C11.8,-0.9 16.2,3.4 14.8,9 C13.6,13.8 9.4,18 4,20.5 L1,17.6 C4.2,15.8 6.6,13.2 7.2,10.8 C3,11 -0.2,8.6 0.2,5.2 C0.5,2.4 3,0.7 6.2,0.2 Z" fill="#fff"/><text transform="translate(182.58,836.55) scale(1.223,1)" x="0" y="0" font-size="36.34" class="b" stroke="#fff" stroke-width="1.3" stroke-linejoin="round" style="vector-effect:non-scaling-stroke">4</text><text transform="translate(209.80,836.21) scale(1.322,1)" x="0" y="0" font-size="35.31" class="b" stroke="#fff" stroke-width="1.3" stroke-linejoin="round" style="vector-effect:non-scaling-stroke">0</text><text transform="translate(236.67,836.55) scale(1.228,1)" x="0" y="0" font-size="36.34" class="b" stroke="#fff" stroke-width="1.3" stroke-linejoin="round" style="vector-effect:non-scaling-stroke">4</text>
<path d="M345.2,593.3 L359.6,593.3 L359.6,624.5 L350.7,624.5 L350.7,603.3 L344.0,604.1 Z" fill="#fff"/><text transform="translate(365.36,623.38) scale(1.131,1)" x="0" y="0" font-size="42.14" class="b" stroke="#fff" stroke-width="1.3" stroke-linejoin="round" style="vector-effect:non-scaling-stroke">3</text><path transform="translate(393.4,617.2) scale(0.887,0.844)" d="M6.2,0.2 C11.8,-0.9 16.2,3.4 14.8,9 C13.6,13.8 9.4,18 4,20.5 L1,17.6 C4.2,15.8 6.6,13.2 7.2,10.8 C3,11 -0.2,8.6 0.2,5.2 C0.5,2.4 3,0.7 6.2,0.2 Z" fill="#fff"/><text transform="translate(409.43,623.44) scale(1.239,1)" x="0" y="0" font-size="42.23" class="b" stroke="#fff" stroke-width="1.3" stroke-linejoin="round" style="vector-effect:non-scaling-stroke">6</text><text transform="translate(439.53,623.85) scale(1.159,1)" x="0" y="0" font-size="42.82" class="b" stroke="#fff" stroke-width="1.3" stroke-linejoin="round" style="vector-effect:non-scaling-stroke">2</text><text transform="translate(468.53,623.44) scale(1.239,1)" x="0" y="0" font-size="42.23" class="b" stroke="#fff" stroke-width="1.3" stroke-linejoin="round" style="vector-effect:non-scaling-stroke">6</text>
<text transform="translate(364.84,687.25) scale(1.259,1)" x="0" y="0" font-size="36.95" class="b" stroke="#fff" stroke-width="1.3" stroke-linejoin="round" style="vector-effect:non-scaling-stroke">2</text><path transform="translate(394.1,681.2) scale(0.713,0.741)" d="M6.2,0.2 C11.8,-0.9 16.2,3.4 14.8,9 C13.6,13.8 9.4,18 4,20.5 L1,17.6 C4.2,15.8 6.6,13.2 7.2,10.8 C3,11 -0.2,8.6 0.2,5.2 C0.5,2.4 3,0.7 6.2,0.2 Z" fill="#fff"/><text transform="translate(406.69,687.25) scale(1.293,1)" x="0" y="0" font-size="36.95" class="b" stroke="#fff" stroke-width="1.3" stroke-linejoin="round" style="vector-effect:non-scaling-stroke">2</text><text transform="translate(433.55,687.25) scale(1.404,1)" x="0" y="0" font-size="37.50" class="b" stroke="#fff" stroke-width="1.3" stroke-linejoin="round" style="vector-effect:non-scaling-stroke">4</text><text transform="translate(466.19,686.84) scale(1.272,1)" x="0" y="0" font-size="36.37" class="b" stroke="#fff" stroke-width="1.3" stroke-linejoin="round" style="vector-effect:non-scaling-stroke">3</text>
<path d="M373.3,843.1 L385.3,843.1 L385.3,873.1 L377.4,873.1 L377.4,852.6 L372.1,853.4 Z" fill="#fff"/><path d="M388.8,843.1 L400.6,843.1 L400.6,873.1 L392.9,873.1 L392.9,852.6 L387.6,853.4 Z" fill="#fff"/><path transform="translate(402.7,867.3) scale(0.667,0.746)" d="M6.2,0.2 C11.8,-0.9 16.2,3.4 14.8,9 C13.6,13.8 9.4,18 4,20.5 L1,17.6 C4.2,15.8 6.6,13.2 7.2,10.8 C3,11 -0.2,8.6 0.2,5.2 C0.5,2.4 3,0.7 6.2,0.2 Z" fill="#fff"/><text transform="translate(413.61,872.00) scale(0.905,1)" x="0" y="0" font-size="40.45" class="b" stroke="#fff" stroke-width="1.3" stroke-linejoin="round" style="vector-effect:non-scaling-stroke">3</text><text transform="translate(434.71,872.05) scale(1.044,1)" x="0" y="0" font-size="40.54" class="b" stroke="#fff" stroke-width="1.3" stroke-linejoin="round" style="vector-effect:non-scaling-stroke">8</text><text transform="translate(459.39,872.05) scale(0.985,1)" x="0" y="0" font-size="40.54" class="b" stroke="#fff" stroke-width="1.3" stroke-linejoin="round" style="vector-effect:non-scaling-stroke">6</text>
<text transform="translate(571.37,888.64) scale(1.236,1)" x="0" y="0" font-size="45.10" class="b" stroke="#fff" stroke-width="1.3" stroke-linejoin="round" style="vector-effect:non-scaling-stroke">3</text><path transform="translate(604.8,881.0) scale(1.013,0.927)" d="M6.2,0.2 C11.8,-0.9 16.2,3.4 14.8,9 C13.6,13.8 9.4,18 4,20.5 L1,17.6 C4.2,15.8 6.6,13.2 7.2,10.8 C3,11 -0.2,8.6 0.2,5.2 C0.5,2.4 3,0.7 6.2,0.2 Z" fill="#fff"/><path d="M624.1,856.5 L640.4,856.5 L640.4,889.8 L630.0,889.8 L630.0,866.9 L622.9,867.7 Z" fill="#fff"/><path d="M647.1,856.5 L663.4,856.5 L663.4,889.8 L653.5,889.8 L653.5,866.9 L645.9,867.7 Z" fill="#fff"/><path d="M671.1,856.5 L687.4,856.5 L687.4,889.8 L677.6,889.8 L677.6,866.9 L669.9,867.7 Z" fill="#fff"/>
<path d="M776.8,902.0 L792.9,902.0 L792.9,937.8 L782.3,937.8 L782.3,913.9 L775.6,914.7 Z" fill="#fff"/><path transform="translate(798.2,928.5) scale(1.020,1.000)" d="M6.2,0.2 C11.8,-0.9 16.2,3.4 14.8,9 C13.6,13.8 9.4,18 4,20.5 L1,17.6 C4.2,15.8 6.6,13.2 7.2,10.8 C3,11 -0.2,8.6 0.2,5.2 C0.5,2.4 3,0.7 6.2,0.2 Z" fill="#fff"/><text transform="translate(815.21,937.15) scale(1.236,1)" x="0" y="0" font-size="50.15" class="b" stroke="#fff" stroke-width="1.3" stroke-linejoin="round" style="vector-effect:non-scaling-stroke">4</text><text transform="translate(853.41,936.67) scale(1.320,1)" x="0" y="0" font-size="48.73" class="b" stroke="#fff" stroke-width="1.3" stroke-linejoin="round" style="vector-effect:non-scaling-stroke">0</text><text transform="translate(890.89,937.15) scale(1.262,1)" x="0" y="0" font-size="50.15" class="b" stroke="#fff" stroke-width="1.3" stroke-linejoin="round" style="vector-effect:non-scaling-stroke">4</text>
</g>
<g stroke="#fff" stroke-width="3.2" stroke-linecap="butt"><line x1="66.2" y1="1147.2" x2="66.2" y2="1161.2"/><line x1="60.1" y1="1150.7" x2="72.3" y2="1157.7"/><line x1="72.3" y1="1150.7" x2="60.1" y2="1157.7"/></g>
<g stroke="#fff" stroke-width="2.2" stroke-linecap="butt"><line x1="367.8" y1="885.2" x2="367.8" y2="894.4"/><line x1="363.8" y1="887.5" x2="371.8" y2="892.1"/><line x1="371.8" y1="887.5" x2="363.8" y2="892.1"/></g>
<g fill="none" stroke="#f0ffd0" stroke-width="1.3"><circle cx="982.8" cy="1179.5" r="14.3"/><circle cx="1014.5" cy="1179.5" r="14.3"/></g>
<path transform="translate(975.74,1171.54) scale(0.655)" fill="#fff" d="M23.953 4.57a10 10 0 01-2.825.775 4.958 4.958 0 002.163-2.723c-.951.555-2.005.959-3.127 1.184a4.92 4.92 0 00-8.384 4.482C7.69 8.095 4.067 6.13 1.64 3.162a4.822 4.822 0 00-.666 2.475c0 1.71.87 3.213 2.188 4.096a4.904 4.904 0 01-2.228-.616v.06a4.923 4.923 0 003.946 4.827 4.996 4.996 0 01-2.212.085 4.936 4.936 0 004.604 3.417 9.867 9.867 0 01-6.102 2.105c-.39 0-.779-.023-1.17-.067a13.995 13.995 0 007.557 2.209c9.053 0 13.998-7.496 13.998-13.985 0-.21 0-.42-.015-.63A9.935 9.935 0 0024 4.59z"/>
<path transform="translate(1001.57,1165.49) scale(1.06)" fill="#fff" d="M13.5 21v-7.5h2.5l.4-3H13.5V8.6c0-.87.24-1.46 1.49-1.46h1.6V4.46A21 21 0 0014.27 4.3c-2.3 0-3.87 1.4-3.87 3.98v2.22H7.8v3h2.6V21z"/>
<g fill="none" stroke="#f4ffe0" stroke-width="1.7"><circle cx="980" cy="1215.5" r="13.2"/><ellipse cx="980" cy="1215.5" rx="5.6" ry="13.2"/><line x1="980" y1="1202.3" x2="980" y2="1228.7"/><line x1="966.8" y1="1215.5" x2="993.2" y2="1215.5"/><line x1="968.5" y1="1209.1" x2="991.5" y2="1209.1"/><line x1="968.5" y1="1221.9" x2="991.5" y2="1221.9"/></g>
<path d="M984,1213.6 L998.2,1219.4 L992.6,1221.8 L999.2,1228.4 L996.6,1230.6 L990.4,1224 L987.6,1228.6 Z" fill="#fff" stroke="#6cb626" stroke-width="2.2" stroke-linejoin="miter" paint-order="stroke"/>
</g>
</svg>
</body></html>
